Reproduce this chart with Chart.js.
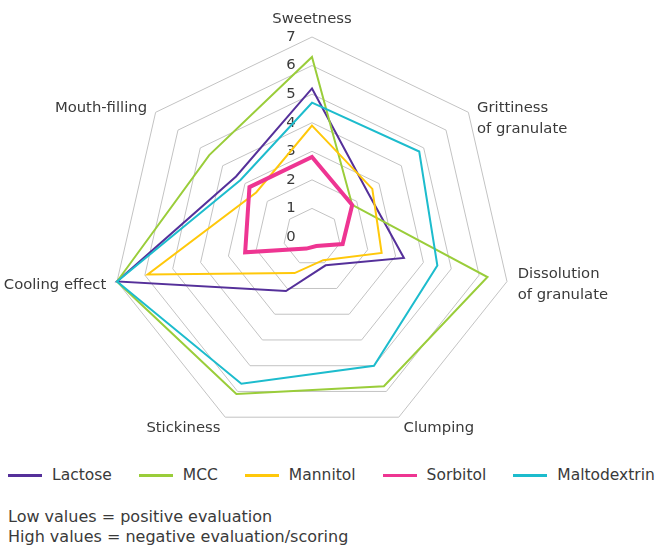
<!DOCTYPE html>
<html>
<head>
<meta charset="utf-8">
<script src="https://cdn.jsdelivr.net/npm/chart.js@4.4.1/dist/chart.umd.min.js"></script>
<style>
  body { margin: 0; background: #fff; font-family: "DejaVu Sans", sans-serif; color: #3a3a3a; }
  #wrap { position: relative; width: 659px; height: 546px; overflow: hidden; }
  #chartBox { position: absolute; left: 0; top: 0; width: 659px; height: 460px; }
  #legend { position: absolute; left: 8px; top: 464px; display: flex; gap: 27px; font-size: 15.5px; white-space: nowrap; }
  .item { display: flex; align-items: center; height: 22px; }
  .swatch { width: 34px; height: 3px; margin-right: 10px; }
  #note { position: absolute; left: 8px; top: 507px; font-size: 16px; line-height: 20px; }
</style>
</head>
<body>
<div id="wrap">
  <div id="chartBox"><canvas id="chart"></canvas></div>
  <div id="legend"></div>
  <div id="note">Low values = positive evaluation<br>High values = negative evaluation/scoring</div>
</div>
<script>
const labels = ['Sweetness', ['Grittiness', 'of granulate'], ['Dissolution', 'of granulate'],
  'Clumping', 'Stickiness', 'Cooling effect', 'Mouth-filling'];
const seriesNames = ['Lactose', 'MCC', 'Mannitol', 'Sorbitol', 'Maltodextrin'];
const lactose = [5.2, 2.5, 3.3, 1.1, 2.1, 7, 3.4];
const mcc = [6.3, 1.8, 6.3, 5.8, 6.1, 7, 4.6];
const mannitol = [3.9, 2.7, 2.5, 0.9, 1.4, 5.9, 2.5];
const sorbitol = [2.8, 1.8, 1.1, 0.35, 0.45, 2.4, 2.8];
const maltodextrin = [4.7, 4.8, 4.5, 5.0, 5.7, 7, 3.2];
const tickValues = [0, 1, 2, 3, 4, 5, 6, 7];

const series = [lactose, mcc, mannitol, sorbitol, maltodextrin];
const colors = ['#55309a', '#9acd3a', '#ffc80a', '#ee3592', '#1dbccd'];
const widths = [2, 2, 2, 4, 2];
const textColor = '#3a3a3a';
const labelFont = '14.8px "DejaVu Sans"';

// tick numbers sit left of the top spoke, axis names outside the web
const textPlugin = {
  id: 'radarText',
  beforeDatasetsDraw(chart) {
    const scale = chart.scales.r;
    const ctx = chart.ctx;
    ctx.save();
    ctx.fillStyle = textColor;
    ctx.font = labelFont;
    ctx.textAlign = 'center';
    ctx.textBaseline = 'middle';
    scale.ticks.forEach((tick) => {
      const d = scale.getDistanceFromCenterForValue(tick.value);
      ctx.fillText(String(tick.value), scale.xCenter - 21, scale.yCenter - d);
    });
    ctx.restore();
  },
  afterDraw(chart) {
    const scale = chart.scales.r;
    const ctx = chart.ctx;
    const lh = 21;
    ctx.save();
    ctx.fillStyle = textColor;
    ctx.font = labelFont;
    ctx.textBaseline = 'middle';
    chart.data.labels.forEach((label, i) => {
      const lines = [].concat(label);
      const p = scale.getPointPosition(i, scale.drawingArea + 11);
      const dx = p.x - scale.xCenter;
      let y0;
      if (Math.abs(dx) < 1) {
        ctx.textAlign = 'center';
        y0 = p.y - 7 - lh * (lines.length - 1);
      } else {
        ctx.textAlign = dx > 0 ? 'left' : 'right';
        y0 = p.y < scale.yCenter ? p.y + 3 : p.y - lh * (lines.length - 1) / 2 + 1;
      }
      lines.forEach((line, k) => ctx.fillText(line, p.x, y0 + k * lh));
    });
    ctx.restore();
  },
};

const chart = new Chart(document.getElementById('chart'), {
  type: 'radar',
  data: {
    labels,
    datasets: seriesNames.map((name, i) => ({
      label: name,
      data: series[i],
      borderColor: colors[i],
      backgroundColor: colors[i],
      borderWidth: widths[i],
      fill: false,
      pointRadius: 0,
      tension: 0,
      order: seriesNames.length - i,
    })),
  },
  options: {
    responsive: true,
    maintainAspectRatio: false,
    animation: false,
    layout: { padding: { top: 37, bottom: 23, left: 0, right: 35 } },
    plugins: { legend: { display: false }, tooltip: { enabled: false } },
    scales: {
      r: {
        min: 0,
        max: 7,
        afterBuildTicks: (scale) => {
          scale.ticks = tickValues.map((v) => ({ value: v }));
        },
        ticks: { display: false },
        pointLabels: { display: false },
        angleLines: { display: false },
        grid: { color: '#c3c3c3', lineWidth: 1 },
      },
    },
  },
  plugins: [textPlugin],
});

const legend = document.getElementById('legend');
chart.data.datasets.forEach((ds) => {
  const item = document.createElement('div');
  item.className = 'item';
  const sw = document.createElement('span');
  sw.className = 'swatch';
  sw.style.background = ds.borderColor;
  const txt = document.createElement('span');
  txt.textContent = ds.label;
  item.append(sw, txt);
  legend.append(item);
});
</script>
</body>
</html>
